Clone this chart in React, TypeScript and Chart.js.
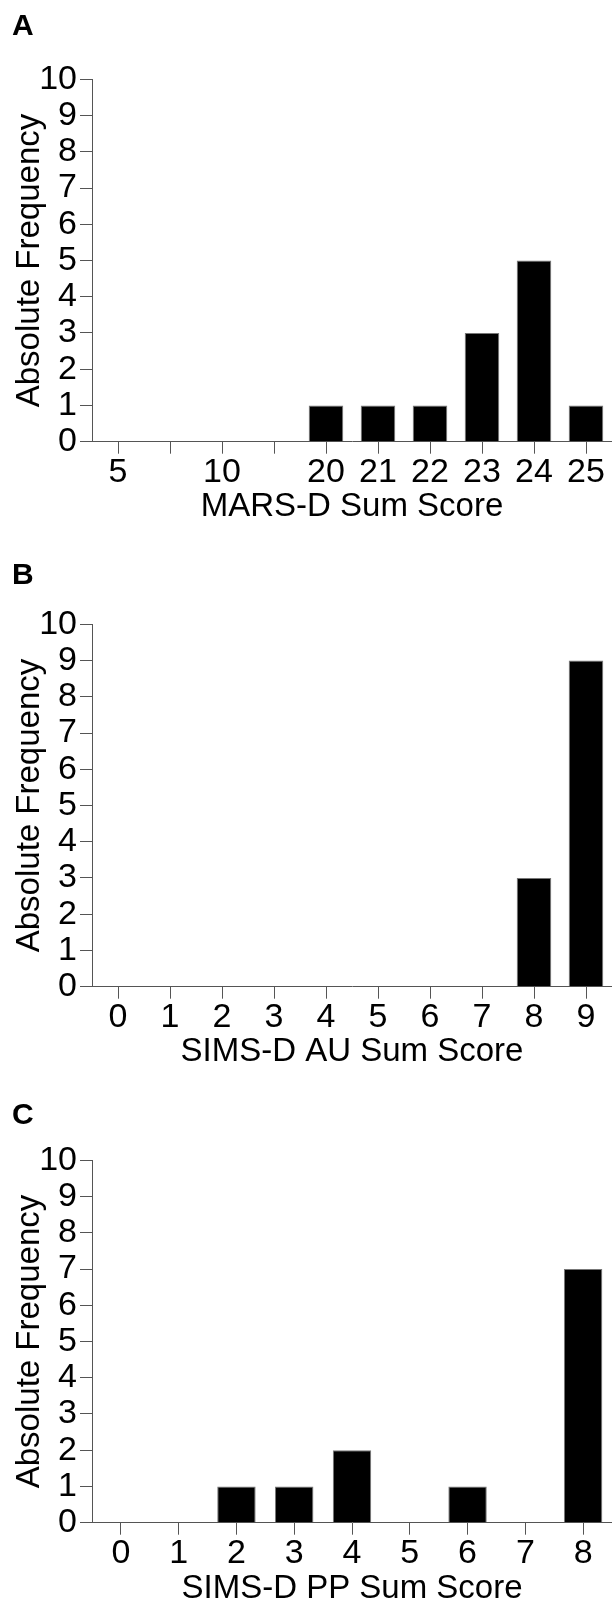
import React, { useEffect, useRef } from 'react';
import { Chart, registerables } from 'chart.js';

Chart.register(...registerables);

// ---- Data ----
const marsLabels = ['5', '', '10', '', '20', '21', '22', '23', '24', '25'];
const marsCounts = [0, 0, 0, 0, 1, 1, 1, 3, 5, 1];

const auLabels = ['0', '1', '2', '3', '4', '5', '6', '7', '8', '9'];
const auCounts = [0, 0, 0, 0, 0, 0, 0, 0, 3, 9];

const ppLabels = ['0', '1', '2', '3', '4', '5', '6', '7', '8'];
const ppCounts = [0, 0, 1, 1, 2, 0, 1, 0, 7];

const panelLetters = ['A', 'B', 'C'];
const xTitles = ['MARS-D Sum Score', 'SIMS-D AU Sum Score', 'SIMS-D PP Sum Score'];
const yTitle = 'Absolute Frequency';

const FONT = "'Liberation Sans', Arial, Helvetica, sans-serif";
const AXIS = '#555555';

type PanelProps = {
  letter: string;
  labels: string[];
  counts: number[];
  xTitle: string;
  height: number;
  titleTop: number;
  titleBottom: number;
  xHeight: number;
  xTitlePad: number;
  padRight: number;
};

function Panel(p: PanelProps) {
  const ref = useRef<HTMLCanvasElement | null>(null);
  useEffect(() => {
    if (!ref.current) return;
    const chart = new Chart(ref.current, {
      type: 'bar',
      data: {
        labels: p.labels,
        datasets: [
          {
            data: p.counts,
            backgroundColor: '#000000',
            borderColor: '#777777',
            borderWidth: 1,
            categoryPercentage: 1,
            barPercentage: 0.665,
          },
        ],
      },
      options: {
        responsive: false,
        animation: false,
        devicePixelRatio: 1,
        layout: { padding: { left: 12, right: p.padRight, top: 0, bottom: 0 } },
        plugins: {
          legend: { display: false },
          tooltip: { enabled: false },
          title: {
            display: true,
            text: p.letter,
            align: 'start',
            color: '#000000',
            font: { family: FONT, size: 30, weight: 'bold', lineHeight: 1.2 },
            padding: { top: p.titleTop, bottom: p.titleBottom },
          },
        },
        scales: {
          x: {
            type: 'category',
            offset: true,
            grid: {
              display: true,
              drawOnChartArea: false,
              drawTicks: true,
              tickLength: 12,
              color: AXIS,
              lineWidth: 1,
              offset: false,
            },
            border: { display: true, color: AXIS, width: 1 },
            ticks: {
              autoSkip: false,
              maxRotation: 0,
              minRotation: 0,
              padding: 2,
              color: '#000000',
              font: { family: FONT, size: 34, lineHeight: 1 },
            },
            title: {
              display: true,
              text: p.xTitle,
              color: '#000000',
              font: { family: FONT, size: 33, lineHeight: 1.2 },
              padding: { top: 0, bottom: p.xTitlePad },
            },
            afterFit: (s: any) => {
              s.height = p.xHeight;
            },
          },
          y: {
            min: 0,
            max: 10,
            grid: {
              display: true,
              drawOnChartArea: false,
              drawTicks: true,
              tickLength: 12,
              color: AXIS,
              lineWidth: 1,
            },
            border: { display: true, color: AXIS, width: 1 },
            ticks: {
              stepSize: 1,
              autoSkip: false,
              padding: 3,
              color: '#000000',
              font: { family: FONT, size: 34, lineHeight: 1 },
            },
            title: {
              display: true,
              text: yTitle,
              color: '#000000',
              font: { family: FONT, size: 33, lineHeight: 1 },
              padding: { top: 1, bottom: 0 },
            },
            afterFit: (s: any) => {
              s.width = 80;
            },
          },
        },
      } as any,
    });
    return () => chart.destroy();
  }, []);
  return (
    <canvas
      ref={ref}
      width={612}
      height={p.height}
      style={{ display: 'block', width: '612px', height: p.height + 'px' }}
    />
  );
}

export default function App() {
  return (
    <div style={{ position: 'absolute', left: 0, top: 0, width: 612, background: '#ffffff' }}>
      <Panel
        letter={panelLetters[0]}
        labels={marsLabels}
        counts={marsCounts}
        xTitle={xTitles[0]}
        height={540}
        titleTop={9}
        titleBottom={34.3}
        xHeight={98.3}
        xTitlePad={13.5}
        padRight={0}
      />
      <Panel
        letter={panelLetters[1]}
        labels={auLabels}
        counts={auCounts}
        xTitle={xTitles[1]}
        height={540}
        titleTop={17.5}
        titleBottom={30.8}
        xHeight={93.3}
        xTitlePad={8.5}
        padRight={0}
      />
      <Panel
        letter={panelLetters[2]}
        labels={ppLabels}
        counts={ppCounts}
        xTitle={xTitles[2]}
        height={519}
        titleTop={17.5}
        titleBottom={26.8}
        xHeight={76.3}
        xTitlePad={-9.5}
        padRight={-3.5}
      />
    </div>
  );
}
